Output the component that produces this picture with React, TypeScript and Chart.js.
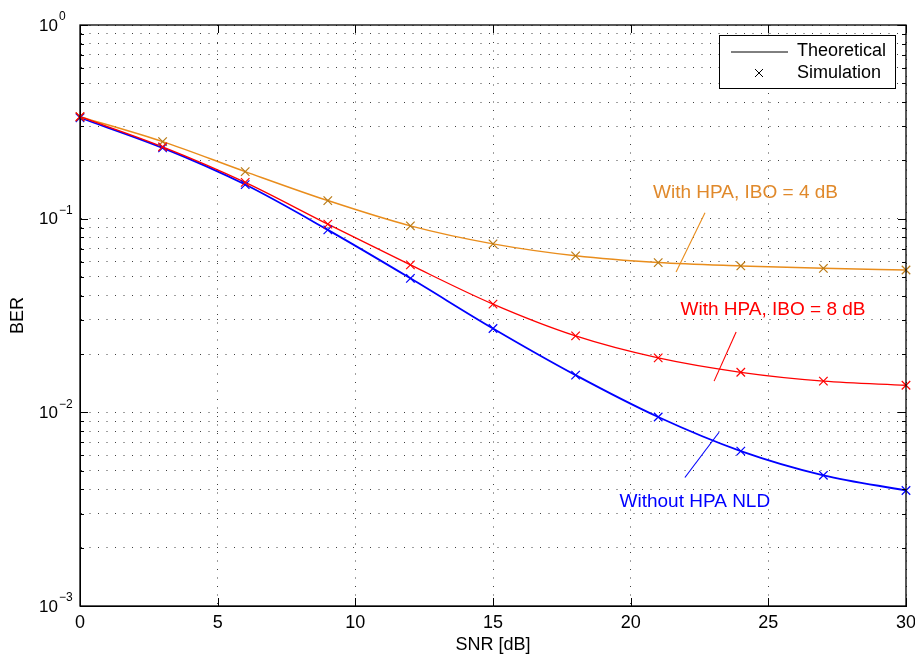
import React, { useEffect, useRef } from 'react';
import { Chart, registerables } from 'chart.js';

Chart.register(...registerables);

// ---- data ----
const snrDb = [0, 3, 6, 9, 12, 15, 18, 21, 24, 27, 30];

const theoryNoHpa = [0.332, 0.232, 0.150, 0.0875, 0.0492, 0.0271, 0.01556, 0.00946, 0.00631, 0.00473, 0.00395];
const simNoHpa = [0.332, 0.232, 0.150, 0.0875, 0.0492, 0.0271, 0.01556, 0.00946, 0.00631, 0.00473, 0.00395];

const theoryIbo8 = [0.336, 0.235, 0.154, 0.0937, 0.0577, 0.0362, 0.0248, 0.0191, 0.0161, 0.0145, 0.0138];
const simIbo8 = [0.336, 0.235, 0.154, 0.0937, 0.0577, 0.0362, 0.0248, 0.0191, 0.0161, 0.0145, 0.0138];

const theoryIbo4 = [0.336, 0.250, 0.175, 0.124, 0.0918, 0.0741, 0.0643, 0.0593, 0.0570, 0.0554, 0.0543];
const simIbo4 = [0.336, 0.250, 0.175, 0.124, 0.0918, 0.0741, 0.0643, 0.0593, 0.0570, 0.0554, 0.0543];

const xTickValues = [0, 5, 10, 15, 20, 25, 30];
const yDecadeExponents = [-3, -2, -1, 0];
const legendLabels = ['Theoretical', 'Simulation'];
const xTitle = 'SNR [dB]';
const yTitle = 'BER';

const BLUE = '#0000FF';
const RED = '#FF0000';
const ORANGE_LINE = '#E98D1C';
const ORANGE_MARK = '#B97A16';
const ORANGE_TEXT = '#E0892B';
const FONT = '"Liberation Sans", Arial, Helvetica, sans-serif';

const annotations = [
  { text: 'With HPA, IBO = 4 dB', color: ORANGE_TEXT, lineColor: ORANGE_LINE, x: 24.17, y: 0.136, from: [22.7, 0.1072], to: [21.65, 0.0531] },
  { text: 'With HPA, IBO = 8 dB', color: RED, lineColor: RED, x: 25.17, y: 0.0337, from: [23.83, 0.02597], to: [23.03, 0.01449] },
  { text: 'Without HPA NLD', color: BLUE, lineColor: BLUE, x: 22.33, y: 0.00344, from: [23.21, 0.00789], to: [21.97, 0.00461] },
];

const toXY = (ys: number[]) => snrDb.map((x, i) => ({ x, y: ys[i] }));

const buildLogTicks = () => {
  const ticks: { value: number; major: boolean }[] = [];
  const minE = Math.min(...yDecadeExponents);
  const maxE = Math.max(...yDecadeExponents);
  for (let e = minE; e < maxE; e++) {
    for (let m = 1; m <= 9; m++) ticks.push({ value: m * Math.pow(10, e), major: m === 1 });
  }
  ticks.push({ value: Math.pow(10, maxE), major: true });
  return ticks;
};

const decorPlugin = {
  id: 'decor',
  afterDraw(chart: any) {
    const { ctx, chartArea: a, scales } = chart;
    const xs = scales.x;
    const ys = scales.y;
    ctx.save();

    // annotations
    ctx.font = `19px ${FONT}`;
    ctx.textAlign = 'center';
    ctx.textBaseline = 'middle';
    annotations.forEach((an) => {
      ctx.strokeStyle = an.lineColor;
      ctx.lineWidth = 1.1;
      ctx.beginPath();
      ctx.moveTo(xs.getPixelForValue(an.from[0]), ys.getPixelForValue(an.from[1]));
      ctx.lineTo(xs.getPixelForValue(an.to[0]), ys.getPixelForValue(an.to[1]));
      ctx.stroke();
      ctx.fillStyle = an.color;
      ctx.fillText(an.text, xs.getPixelForValue(an.x), ys.getPixelForValue(an.y));
    });

    // box
    ctx.strokeStyle = '#000';
    ctx.lineWidth = 1.3;
    ctx.strokeRect(a.left, a.top, a.right - a.left, a.bottom - a.top);

    // inward tick marks
    ctx.lineWidth = 1;
    ctx.beginPath();
    xTickValues.forEach((v) => {
      const px = Math.round(xs.getPixelForValue(v)) + 0.5;
      ctx.moveTo(px, a.bottom);
      ctx.lineTo(px, a.bottom - 8);
      ctx.moveTo(px, a.top);
      ctx.lineTo(px, a.top + 8);
    });
    ys.ticks.forEach((t: any) => {
      const py = Math.round(ys.getPixelForValue(t.value)) + 0.5;
      const len = t.major ? 8 : 4;
      ctx.moveTo(a.left, py);
      ctx.lineTo(a.left + len, py);
      ctx.moveTo(a.right, py);
      ctx.lineTo(a.right - len, py);
    });
    ctx.stroke();

    // y tick labels 10^e
    ctx.fillStyle = '#000';
    ctx.textAlign = 'left';
    ctx.textBaseline = 'middle';
    yDecadeExponents.forEach((e) => {
      const py = ys.getPixelForValue(Math.pow(10, e));
      const lx = a.left - 41;
      ctx.font = `17px ${FONT}`;
      ctx.fillText('10', lx, py + 1);
      const w = ctx.measureText('10').width;
      ctx.font = `12px ${FONT}`;
      ctx.fillText(e === 0 ? '0' : '\u2212' + Math.abs(e), lx + w + 1, py - 8);
    });

    // legend
    const lw = 176;
    const lh = 53;
    const lx = a.right - 11 - lw;
    const ly = a.top + 10;
    ctx.fillStyle = '#fff';
    ctx.fillRect(lx, ly, lw, lh);
    ctx.strokeStyle = '#000';
    ctx.lineWidth = 1;
    ctx.strokeRect(lx + 0.5, ly + 0.5, lw, lh);
    ctx.beginPath();
    ctx.moveTo(lx + 12, ly + 17);
    ctx.lineTo(lx + 69, ly + 17);
    ctx.stroke();
    const mx = lx + 40;
    const my = ly + 38;
    ctx.beginPath();
    ctx.moveTo(mx - 4, my - 4);
    ctx.lineTo(mx + 4, my + 4);
    ctx.moveTo(mx - 4, my + 4);
    ctx.lineTo(mx + 4, my - 4);
    ctx.stroke();
    ctx.fillStyle = '#000';
    ctx.font = `18px ${FONT}`;
    ctx.textAlign = 'left';
    ctx.fillText(legendLabels[0], lx + 78, ly + 16);
    ctx.fillText(legendLabels[1], lx + 78, ly + 38);

    ctx.restore();
  },
};

export default function App() {
  const canvasRef = useRef<HTMLCanvasElement | null>(null);

  useEffect(() => {
    document.body.style.margin = '0';
    if (!canvasRef.current) return;
    Chart.defaults.font.family = FONT;
    const lineDs = (label: string, ys: number[], color: string, width: number) => ({
      label,
      data: toXY(ys),
      borderColor: color,
      backgroundColor: color,
      borderWidth: width,
      pointRadius: 0,
      showLine: true,
      cubicInterpolationMode: 'monotone' as const,
      clip: false as const,
    });
    const simDs = (label: string, ys: number[], color: string) => ({
      label,
      data: toXY(ys),
      borderColor: color,
      backgroundColor: color,
      showLine: false,
      pointStyle: 'crossRot' as const,
      pointRadius: 6,
      pointBorderWidth: 1.2,
      pointBorderColor: color,
      clip: false as const,
    });

    const chart = new Chart(canvasRef.current, {
      type: 'line',
      data: {
        datasets: [
          simDs('Simulation IBO 8', simIbo8, RED),
          simDs('Simulation IBO 4', simIbo4, ORANGE_MARK),
          simDs('Simulation no HPA', simNoHpa, BLUE),
          lineDs('Theoretical IBO 8', theoryIbo8, RED, 1.3),
          lineDs('Theoretical IBO 4', theoryIbo4, ORANGE_LINE, 1.5),
          lineDs('Theoretical no HPA', theoryNoHpa, BLUE, 1.8),
        ] as any,
      },
      options: {
        animation: false,
        responsive: true,
        maintainAspectRatio: false,
        layout: { padding: { left: 0, top: 25, right: 9, bottom: 0 } },
        plugins: { legend: { display: false }, tooltip: { enabled: false } },
        scales: {
          x: {
            type: 'linear',
            min: 0,
            max: 30,
            afterBuildTicks: (s: any) => {
              s.ticks = xTickValues.map((v) => ({ value: v }));
            },
            afterFit: (s: any) => {
              s.height = 50;
              s.paddingLeft = 0;
              s.paddingRight = 0;
            },
            ticks: { color: '#000', font: { size: 18 }, padding: 6, maxRotation: 0 },
            grid: { color: 'rgba(0,0,0,0.75)', lineWidth: 1, drawTicks: false },
            border: { display: true, color: '#000', dash: [1, 7.5] },
            title: { display: true, text: xTitle, color: '#000', font: { size: 18 }, padding: { top: 0, bottom: 0 } },
          },
          y: {
            type: 'logarithmic',
            min: Math.pow(10, Math.min(...yDecadeExponents)),
            max: Math.pow(10, Math.max(...yDecadeExponents)),
            afterBuildTicks: (s: any) => {
              s.ticks = buildLogTicks();
            },
            afterFit: (s: any) => {
              s.width = 80;
              s.paddingTop = 0;
              s.paddingBottom = 0;
            },
            ticks: { display: false },
            grid: { color: 'rgba(0,0,0,0.75)', lineWidth: 1, drawTicks: false },
            border: { display: true, color: '#000', dash: [1, 7.5] },
            title: { display: true, text: yTitle, color: '#000', font: { size: 18 }, padding: { top: 7, bottom: 0 } },
          },
        },
      } as any,
      plugins: [decorPlugin],
    });
    return () => chart.destroy();
  }, []);

  return (
    <div style={{ position: 'absolute', left: 0, top: 0, width: 915, height: 656, background: '#fff' }}>
      <canvas ref={canvasRef} />
    </div>
  );
}
